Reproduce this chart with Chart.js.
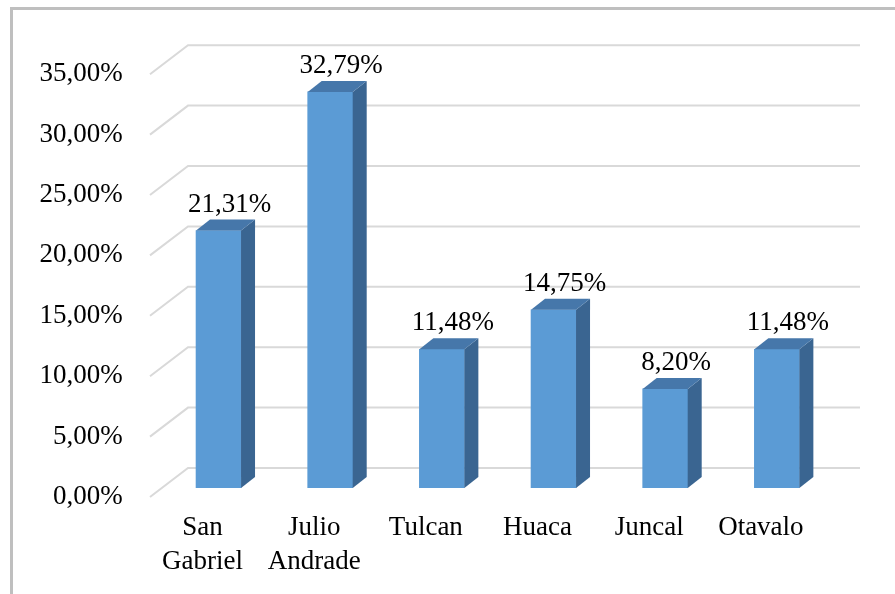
<!DOCTYPE html>
<html>
<head>
<meta charset="utf-8">
<script src="https://cdn.jsdelivr.net/npm/chart.js@4.4.0/dist/chart.umd.min.js"></script>
<style>
  html, body { margin: 0; padding: 0; background: #ffffff; }
  canvas { display: block; }
</style>
</head>
<body>
<canvas id="c" width="895" height="594"></canvas>
<script>
const categories = [['San', 'Gabriel'], ['Julio', 'Andrade'], 'Tulcan', 'Huaca', 'Juncal', 'Otavalo'];
const values = [21.31, 32.79, 11.48, 14.75, 8.20, 11.48];
const yTicks = [0, 5, 10, 15, 20, 25, 30, 35];

const fmt = v => v.toFixed(2).replace('.', ',') + '%';
const DX = 14, DY = 11;            // bar depth
const FONT = { family: "'Liberation Serif', 'Times New Roman', serif", size: 27 };

const frame = {
  id: 'frame',
  beforeDraw(chart) {
    const ctx = chart.ctx;
    ctx.save();
    ctx.strokeStyle = '#BFBFBF';
    ctx.lineWidth = 3;
    ctx.strokeRect(11.5, 8.5, 1000, 1000);
    ctx.restore();
  }
};

const walls = {
  id: 'walls',
  beforeDatasetsDraw(chart) {
    const ctx = chart.ctx, y = chart.scales.y, a = chart.chartArea;
    ctx.save();
    ctx.strokeStyle = '#D9D9D9';
    ctx.lineWidth = 2;
    yTicks.forEach(v => {
      const p = y.getPixelForValue(v);
      ctx.beginPath();
      ctx.moveTo(a.left - 12.7, p + 9);
      ctx.lineTo(a.left + 25.3, p - 20);
      ctx.lineTo(a.right + 27.3, p - 20);
      ctx.stroke();
    });
    ctx.restore();
  }
};

const bars3d = {
  id: 'bars3d',
  afterDatasetsDraw(chart) {
    const ctx = chart.ctx;
    const meta = chart.getDatasetMeta(0);
    ctx.save();
    meta.data.forEach((bar, i) => {
      const p = bar.getProps(['x', 'y', 'base', 'width'], true);
      const l = p.x - p.width / 2, r = p.x + p.width / 2;
      // side
      ctx.fillStyle = '#3A6591';
      ctx.beginPath();
      ctx.moveTo(r, p.y);
      ctx.lineTo(r + DX, p.y - DY);
      ctx.lineTo(r + DX, p.base - DY);
      ctx.lineTo(r, p.base);
      ctx.closePath();
      ctx.fill();
      // top
      ctx.fillStyle = '#4677AA';
      ctx.beginPath();
      ctx.moveTo(l, p.y);
      ctx.lineTo(l + DX, p.y - DY);
      ctx.lineTo(r + DX, p.y - DY);
      ctx.lineTo(r, p.y);
      ctx.closePath();
      ctx.fill();
      // value label
      ctx.fillStyle = '#000000';
      ctx.font = FONT.size + 'px ' + FONT.family;
      ctx.textAlign = 'center';
      ctx.textBaseline = 'alphabetic';
      ctx.fillText(fmt(values[i]), p.x + 11, p.y - 19);
    });
    ctx.restore();
  }
};

Chart.defaults.font.family = FONT.family;
Chart.defaults.font.size = FONT.size;
Chart.defaults.color = '#000000';

new Chart(document.getElementById('c'), {
  type: 'bar',
  data: {
    labels: categories,
    datasets: [{
      data: values,
      backgroundColor: '#5B9BD5',
      borderColor: '#7FB0DE',
      borderWidth: 0,
      barThickness: 45
    }]
  },
  options: {
    responsive: false,
    animation: false,
    layout: { padding: { left: 0, right: 62.3, top: 65.2, bottom: 0 } },
    plugins: { legend: { display: false }, tooltip: { enabled: false } },
    scales: {
      x: {
        grid: { display: false, drawTicks: false },
        border: { display: false },
        ticks: {
          padding: 23,
          labelOffset: -16,
          maxRotation: 0,
          autoSkip: false,
          font: { size: 27, lineHeight: '34px' }
        },
        afterFit(s) { s.height = 106; }
      },
      y: {
        min: 0,
        max: 35,
        grid: { display: false, drawTicks: false },
        border: { display: false },
        ticks: {
          stepSize: 5,
          padding: 40,
          labelOffset: 9,
          callback: v => fmt(v)
        },
        afterFit(s) { s.width = 162.7; }
      }
    }
  },
  plugins: [frame, walls, bars3d]
});
</script>
</body>
</html>
